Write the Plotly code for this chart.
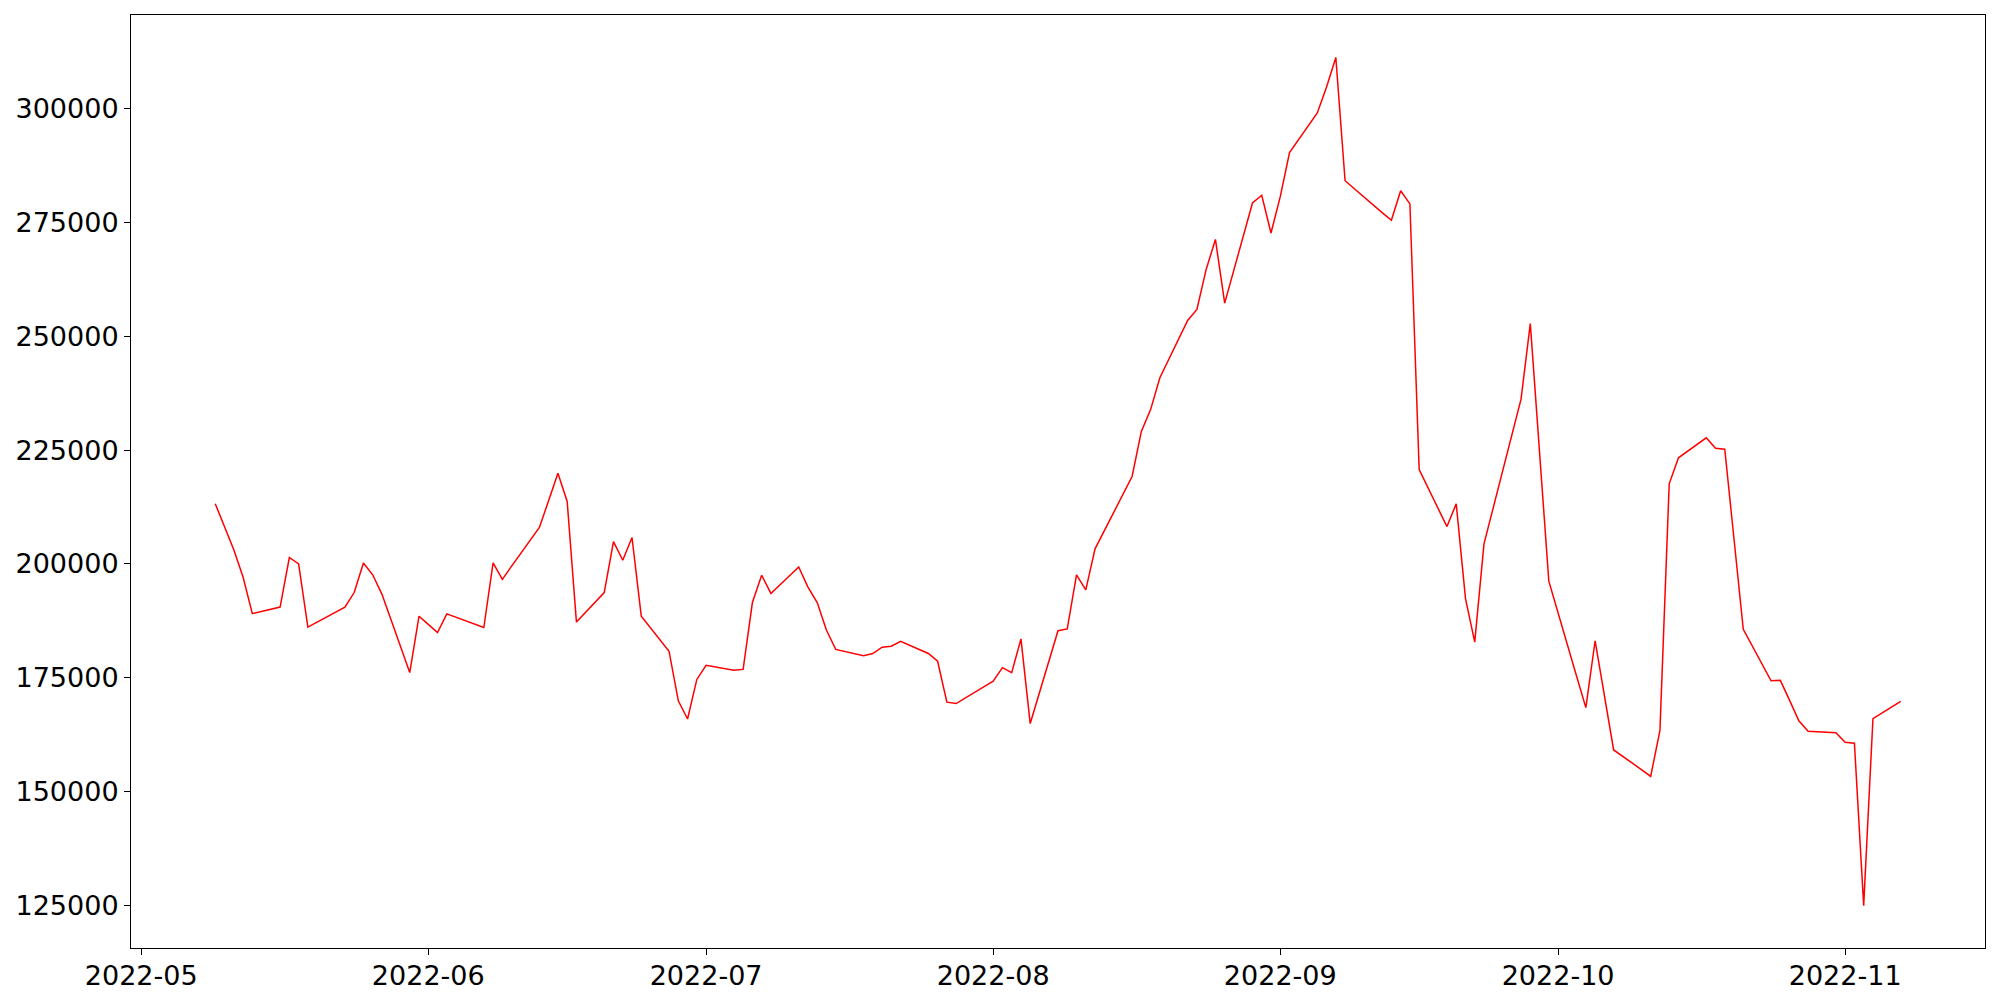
import pandas as pd
import plotly.graph_objects as go

# ── Data ─────────────────────────────────────────────────────────────────────
dates = [
    "2022-05-09", "2022-05-10", "2022-05-11", "2022-05-12", "2022-05-13",
    "2022-05-16", "2022-05-17", "2022-05-18", "2022-05-19", "2022-05-20",
    "2022-05-23", "2022-05-24", "2022-05-25", "2022-05-26", "2022-05-27",
    "2022-05-30", "2022-05-31", "2022-06-01", "2022-06-02", "2022-06-03",
    "2022-06-06", "2022-06-07", "2022-06-08", "2022-06-09", "2022-06-10",
    "2022-06-13", "2022-06-14", "2022-06-15", "2022-06-16", "2022-06-17",
    "2022-06-20", "2022-06-21", "2022-06-22", "2022-06-23", "2022-06-24",
    "2022-06-27", "2022-06-28", "2022-06-29", "2022-06-30", "2022-07-01",
    "2022-07-04", "2022-07-05", "2022-07-06", "2022-07-07", "2022-07-08",
    "2022-07-11", "2022-07-12", "2022-07-13", "2022-07-14", "2022-07-15",
    "2022-07-18", "2022-07-19", "2022-07-20", "2022-07-21", "2022-07-22",
    "2022-07-25", "2022-07-26", "2022-07-27", "2022-07-28", "2022-07-29",
    "2022-08-01", "2022-08-02", "2022-08-03", "2022-08-04", "2022-08-05",
    "2022-08-08", "2022-08-09", "2022-08-10", "2022-08-11", "2022-08-12",
    "2022-08-15", "2022-08-16", "2022-08-17", "2022-08-18", "2022-08-19",
    "2022-08-22", "2022-08-23", "2022-08-24", "2022-08-25", "2022-08-26",
    "2022-08-29", "2022-08-30", "2022-08-31", "2022-09-01", "2022-09-02",
    "2022-09-05", "2022-09-06", "2022-09-07", "2022-09-08", "2022-09-09",
    "2022-09-12", "2022-09-13", "2022-09-14", "2022-09-15", "2022-09-16",
    "2022-09-19", "2022-09-20", "2022-09-21", "2022-09-22", "2022-09-23",
    "2022-09-26", "2022-09-27", "2022-09-28", "2022-09-29", "2022-09-30",
    "2022-10-03", "2022-10-04", "2022-10-05", "2022-10-06", "2022-10-07",
    "2022-10-10", "2022-10-11", "2022-10-12", "2022-10-13", "2022-10-14",
    "2022-10-17", "2022-10-18", "2022-10-19", "2022-10-20", "2022-10-21",
    "2022-10-24", "2022-10-25", "2022-10-26", "2022-10-27", "2022-10-28",
    "2022-10-31", "2022-11-01", "2022-11-02", "2022-11-03", "2022-11-04",
    "2022-11-07",
]

values = [
    213200, 208200, 203100, 197100, 189050,
    190500, 201400, 200000, 186100, 187200,
    190500, 193700, 200200, 197600, 193300,
    176100, 188500, 186700, 184900, 189000,
    186700, 186000, 200200, 196600, 199500,
    208000, 213900, 219900, 213700, 187200,
    193700, 204900, 200800, 205800, 188500,
    180800, 169900, 165900, 174600, 177700,
    176600, 176800, 191500, 197500, 193500,
    199300, 194900, 191500, 185400, 181200,
    179800, 180300, 181700, 181900, 183000,
    180300, 178600, 169600, 169300, 170500,
    174200, 177200, 176100, 183500, 164900,
    185300, 185700, 197600, 194300, 203300,
    215300, 219200, 229100, 233900, 240900,
    253500, 255900, 264700, 271300, 257300,
    279300, 281000, 272700, 280700, 290400,
    299100, 304800, 311300, 284200, 282400,
    277200, 275500, 282000, 279100, 220700,
    208200, 213200, 192400, 182800, 204400,
    228700, 236200, 252800, 224500, 196200,
    175300, 168400, 183100, 171100, 159100,
    154800, 153300, 163400, 217600, 223300,
    227700, 225400, 225200, 205400, 185600,
    174300, 174400, 170000, 165500, 163200,
    162900, 160800, 160600, 124900, 166000,
    169800,
]

y_ticks = [125000, 150000, 175000, 200000, 225000, 250000, 275000, 300000]

# ── Axis ranges with a 5 % pad, like matplotlib's default margins ────────────
x = pd.to_datetime(dates)
x_pad = (x.max() - x.min()) * 0.05
y_pad = (max(values) - min(values)) * 0.05

FONT = dict(family="DejaVu Sans", size=27, color="#000000")

fig = go.Figure(go.Scatter(
    x=x,
    y=values,
    mode="lines",
    line=dict(color="#ff0000", width=1.5),
    showlegend=False,
))

axis_common = dict(
    showline=True, mirror=True, linecolor="#000000", linewidth=1,
    showgrid=False, zeroline=False, automargin=False,
    ticks="outside", ticklen=6, tickwidth=1, tickcolor="#000000",
    tickfont=FONT,
)

# page body adds an 8 px offset, so the figure is a bit smaller than the window
fig.update_layout(
    width=1984, height=984,
    paper_bgcolor="white", plot_bgcolor="white",
    font=FONT,
    margin=dict(l=123, r=7, t=7, b=44, pad=0),
    xaxis=dict(
        **axis_common,
        type="date",
        range=[x.min() - x_pad, x.max() + x_pad],
        dtick="M1", tick0="2022-05-01", tickformat="%Y-%m",
        ticklabelstandoff=-2,
    ),
    yaxis=dict(
        **axis_common,
        range=[min(values) - y_pad, max(values) + y_pad],
        tickvals=y_ticks, ticktext=[str(v) for v in y_ticks],
    ),
)

fig.write_html("out.html")
